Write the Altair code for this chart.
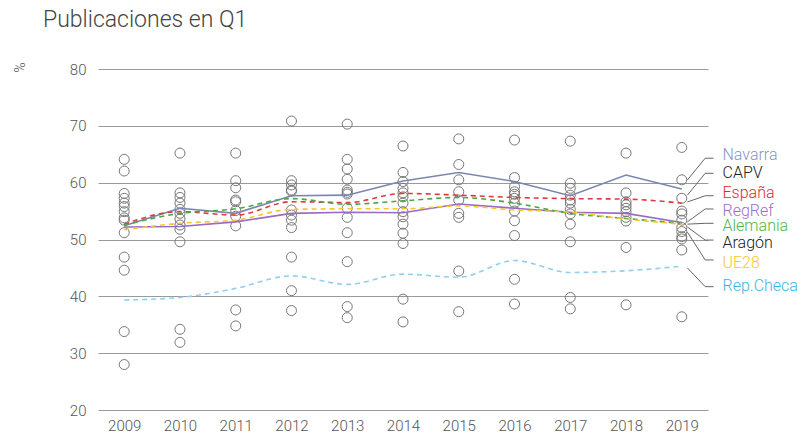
import altair as alt
import pandas as pd

years = list(range(2009, 2020))

# Series (%)
navarra = [52.4, 55.5, 54.6, 57.7, 57.8, 60.3, 61.8, 60.2, 57.7, 61.35, 58.9]
regref = [52.2, 52.3, 53.1, 54.6, 54.8, 54.7, 56.25, 55.5, 54.8, 54.6, 53.0]
espana = [52.7, 54.9, 54.3, 56.65, 56.5, 58.1, 57.8, 57.4, 57.2, 57.1, 56.4]
alemania = [52.55, 54.6, 55.4, 57.2, 56.2, 56.8, 57.4, 56.4, 54.6, 53.7, 52.85]
ue28 = [51.7, 52.85, 53.4, 55.3, 55.4, 55.4, 55.9, 55.2, 54.8, 53.6, 52.7]
repcheca = [39.35, 39.8, 41.4, 43.6, 42.1, 43.9, 43.35, 46.3, 44.2, 44.5, 45.3]

# Regional values (circles)
regions = {
    2009: [64.1, 62.05, 58.1, 57.25, 56.4, 55.8, 54.9, 53.8, 53.4, 51.2, 46.9, 44.6, 33.8, 28.0],
    2010: [65.2, 58.2, 57.4, 56.4, 55.3, 54.6, 53.6, 52.55, 51.8, 49.6, 34.2, 31.9],
    2011: [65.2, 60.35, 59.1, 56.95, 56.65, 55.1, 54.1, 52.4, 37.6, 34.8],
    2012: [70.85, 60.35, 59.6, 58.7, 58.5, 55.2, 54.3, 53.4, 52.1, 46.9, 41.0, 37.5],
    2013: [70.3, 64.1, 62.4, 60.6, 58.7, 58.3, 58.0, 55.5, 53.9, 51.2, 46.1, 38.2, 36.25],
    2014: [66.45, 61.8, 60.2, 59.0, 58.2, 57.5, 56.4, 54.9, 54.0, 52.7, 51.1, 49.3, 39.5, 35.5],
    2015: [67.7, 63.2, 60.5, 58.4, 56.95, 54.6, 53.9, 44.45, 37.3],
    2016: [67.5, 60.9, 59.3, 58.4, 57.95, 57.25, 56.4, 55.0, 53.3, 50.7, 43.0, 38.65],
    2017: [67.3, 59.9, 59.0, 57.8, 56.95, 56.4, 55.3, 54.5, 52.7, 49.6, 39.8, 37.8],
    2018: [65.2, 58.2, 56.65, 56.1, 55.5, 54.9, 53.9, 53.25, 48.6, 38.5],
    2019: [66.2, 60.5, 57.25, 55.0, 54.5, 53.4, 52.1, 51.4, 50.5, 50.1, 48.15, 36.4],
}

# Labels on the right
label_names = ["Navarra", "CAPV", "España", "RegRef", "Alemania", "Aragón", "UE28", "Rep.Checa"]
label_colors = ["#8a93bf", "#222222", "#e3262d", "#9c6fce", "#4cb848", "#222222", "#fcc62e", "#3db4e8"]
label_text_y = [64.8, 61.65, 58.2, 54.95, 52.3, 49.3, 45.9, 41.9]
leader_end_y = [64.3, 61.65, 57.7, 55.37, 52.85, 49.9, 46.4, 41.7]
leader_start_y = [60.47, 57.8, 56.6, 53.1, 52.7, 52.2, 51.3, 45.0]

series = [
    ("Navarra", navarra, "#7a86ad", False, "linear"),
    ("RegRef", regref, "#9a6bc4", False, "linear"),
    ("España", espana, "#e0393e", True, "monotone"),
    ("Alemania", alemania, "#47a83d", True, "monotone"),
    ("UE28", ue28, "#fcc530", True, "monotone"),
    ("Rep.Checa", repcheca, "#8fd0f2", True, "monotone"),
]

FONT = "Roboto"
X_DOMAIN = [2008.53, 2019.47]
Y_DOMAIN = [20, 80]

circ_df = pd.DataFrame(
    [{"year": y, "value": v} for y, vals in regions.items() for v in vals]
)

x_enc = alt.X(
    "year:Q",
    scale=alt.Scale(domain=X_DOMAIN, nice=False, zero=False),
    axis=alt.Axis(
        values=years, format="d", grid=False, domain=False, ticks=False,
        labelPadding=8, labelFontSize=15, labelColor="#555555", labelFont=FONT,
        labelFontWeight=300, title=None,
    ),
)
y_enc = alt.Y(
    "value:Q",
    scale=alt.Scale(domain=Y_DOMAIN, nice=False, zero=False),
    axis=alt.Axis(
        values=[20, 30, 40, 50, 60, 70, 80], grid=True, gridColor="#9a9a9a",
        gridWidth=1, domain=False, ticks=False, labelPadding=12,
        labelFontSize=15, labelColor="#555555", labelFont=FONT, labelFontWeight=300,
        title="%", titleAngle=270, titleX=-78, titleY=-2, titleAlign="center",
        titleBaseline="middle", titleFontSize=14, titleFontWeight=300,
        titleColor="#555555", titleFont=FONT,
    ),
)

circles = alt.Chart(circ_df).mark_point(
    shape="circle", filled=False, size=100, stroke="#777777", strokeWidth=1, opacity=1
).encode(x=x_enc, y=y_enc)

layers = [circles]
for name, vals, color, dashed, interp in series:
    df = pd.DataFrame({"year": years, "value": vals})
    kw = dict(color=color, strokeWidth=1.6, interpolate=interp)
    if dashed:
        kw["strokeDash"] = [5, 4]
    layers.append(alt.Chart(df).mark_line(**kw).encode(x="year:Q", y="value:Q"))

# Leader lines
lead_rows = []
for i, name in enumerate(label_names):
    lead_rows.append({"name": name, "step": 0, "year": 2019.10, "value": leader_start_y[i]})
    lead_rows.append({"name": name, "step": 1, "year": 2019.42, "value": leader_end_y[i]})
    lead_rows.append({"name": name, "step": 2, "year": 2019.57, "value": leader_end_y[i]})
lead_df = pd.DataFrame(lead_rows)
leaders = alt.Chart(lead_df).mark_line(color="#666666", strokeWidth=1, clip=False).encode(
    x="year:Q", y="value:Q", detail="name:N", order="step:Q"
)
layers.append(leaders)

lab_df = pd.DataFrame({
    "name": label_names, "value": label_text_y,
    "year": [2019.73] * len(label_names), "color": label_colors,
})
labels = alt.Chart(lab_df).mark_text(
    align="left", baseline="middle", fontSize=16, font=FONT, fontWeight=300
).encode(
    x="year:Q", y="value:Q", text="name:N",
    color=alt.Color("color:N", scale=None),
)
layers.append(labels)

chart = alt.layer(*layers).properties(
    width=610, height=341,
    title=alt.TitleParams(
        "Publicaciones en Q1", anchor="start", frame="group", dx=-55, fontSize=23,
        fontWeight=300, font=FONT, color="#444444", offset=30,
    ),
    autosize=alt.AutoSizeParams(type="none"),
    padding={"left": 90, "top": 61, "right": 93, "bottom": 26},
).configure_view(stroke=None)

chart.save("out.html", embed_options={"renderer": "svg", "actions": False})
